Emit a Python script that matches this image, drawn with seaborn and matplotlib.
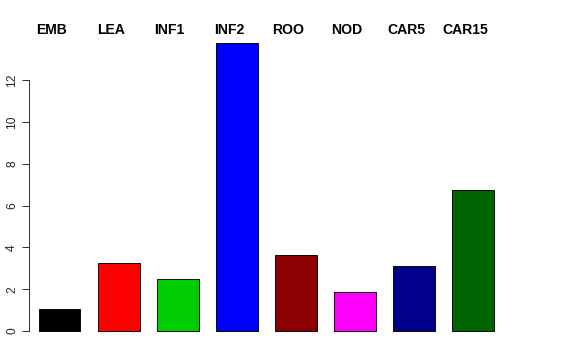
import matplotlib
matplotlib.use("Agg")
import matplotlib.pyplot as plt
import matplotlib.transforms as mtransforms
import seaborn as sns
import pandas as pd

# values
categories = ['EMB', 'LEA', 'INF1', 'INF2', 'ROO', 'NOD', 'CAR5', 'CAR15']
values = [1.04, 3.27, 2.49, 13.78, 3.62, 1.88, 3.11, 6.75]
bar_colors = ['#000000', '#FF0000', '#00CD00', '#0000FF', '#8B0000', '#FF00FF', '#00008B', '#006400']
y_ticks = [0, 2, 4, 6, 8, 10, 12]

sns.set_style('white')
plt.rcParams['font.family'] = ['Liberation Sans', 'DejaVu Sans']

df = pd.DataFrame({'group': categories, 'value': values})

W, H = 576, 360
fig = plt.figure(figsize=(W / 72, H / 72), dpi=72)
# place the plot region in pixel terms
left, right, top, bottom = 29, 546, 31.5, 342.5
ax = fig.add_axes([left / W, (H - bottom) / H, (right - left) / W, (bottom - top) / H])

sns.barplot(data=df, x='group', y='value', hue='group', palette=bar_colors,
            legend=False, width=0.71, edgecolor='black', linewidth=0.9,
            saturation=1, ax=ax)

ax.set_xlim(-0.516, 8.23)
ax.set_ylim(-0.551, 14.33)

# labels across the top, slightly left of the bar centres
trans = mtransforms.blended_transform_factory(ax.transData, ax.transAxes)
for i, name in enumerate(categories):
    ax.text(i - 0.135, 1.005, name, transform=trans, ha='center', va='center',
            fontsize=14, fontweight='bold', color='black')

ax.set_xticks([])
ax.set_xlabel('')
ax.set_ylabel('')
ax.set_yticks(y_ticks)
ax.set_yticklabels([str(t) for t in y_ticks], rotation=90, va='center', fontsize=12)
ax.tick_params(axis='y', left=True, length=7, width=1, color='#333333', pad=4)

for side in ['top', 'right', 'bottom']:
    ax.spines[side].set_visible(False)
ax.spines['left'].set_bounds(0, 12)
ax.spines['left'].set_color('#333333')
ax.spines['left'].set_linewidth(1)

fig.savefig('out.png', dpi=72)
